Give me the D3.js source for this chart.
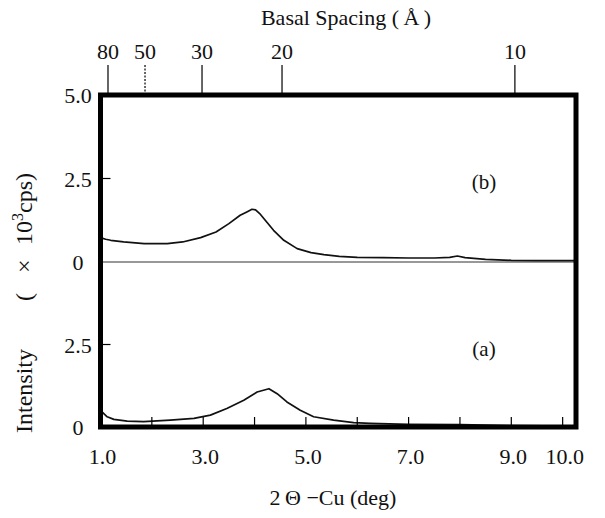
<!DOCTYPE html>
<head>
    <style>
        body { margin: 0; background: #fff; }
        svg { background-color: #fff; font-family: 'Liberation Serif', 'DejaVu Serif', serif; }
        path.line { fill: none; stroke: #111; stroke-width: 1.7px; stroke-linejoin: round; }
        line.tick { stroke: #000; stroke-width: 1.2px; }
        text { fill: #111; }
    </style>
</head>
<body>
    <script src="https://d3js.org/d3.v7.min.js"></script>
    <script>
        // curve (b), upper panel
        var two_theta_b = [1.0, 1.1, 1.2, 1.45, 1.85, 2.3, 2.6, 2.95, 3.25, 3.5, 3.72, 3.85, 3.95, 4.02, 4.1, 4.18,
                           4.37, 4.57, 4.83, 5.1, 5.35, 5.65, 6.0, 6.5, 7.0, 7.5, 7.8, 7.95, 8.1, 8.5, 9.0, 9.5, 10.26];
        var intensity_b = [0.73, 0.68, 0.65, 0.60, 0.55, 0.55, 0.60, 0.73, 0.90, 1.15, 1.40, 1.50, 1.58, 1.56, 1.45, 1.30,
                           0.95, 0.65, 0.40, 0.28, 0.22, 0.17, 0.14, 0.13, 0.12, 0.12, 0.14, 0.18, 0.13, 0.08, 0.05, 0.04, 0.04];

        // curve (a), lower panel
        var two_theta_a = [1.0, 1.03, 1.13, 1.26, 1.52, 1.84, 2.36, 2.82, 3.14, 3.46, 3.79, 4.05, 4.28, 4.44, 4.63,
                           4.89, 5.15, 5.54, 5.93, 6.25, 7.0, 8.0, 9.0, 10.26];
        var intensity_a = [0.50, 0.46, 0.31, 0.23, 0.18, 0.16, 0.21, 0.26, 0.36, 0.56, 0.81, 1.06, 1.16, 1.01, 0.76,
                           0.51, 0.31, 0.21, 0.13, 0.11, 0.08, 0.07, 0.04, 0.03];

        var bottom_ticks = [2, 3, 4, 5, 6, 7, 8, 9, 10];
        var bottom_labels = ['1.0', '3.0', '5.0', '7.0', '9.0', '10.0'];
        var bottom_label_pos = [1, 3, 5, 7, 9, 10];

        var top_labels = ['80', '50', '30', '20', '10'];
        var top_pos = [1.146, 1.867, 2.977, 4.535, 9.07];

        var y_ticks = [2.5];
        var y_labels_b = ['5.0', '2.5', '0'];
        var y_labels_a = ['2.5', '0'];
        var y_label_vals_b = [5, 2.5, 0];
        var y_label_vals_a = [2.5, 0];

        var dim = {'w': 605, 'h': 518,
                   frame: {'left': 100.5, 'right': 576, 'top': 95, 'mid': 262, 'bottom': 427}};

        var svg = d3.select('body')
                    .append('svg')
                    .attr('width', dim.w)
                    .attr('height', dim.h);

        var x_scale = d3.scaleLinear()
                        .domain([1, 10.26])
                        .range([dim.frame.left, dim.frame.right]);
        var y_top = d3.scaleLinear()
                      .domain([0, 5])
                      .range([dim.frame.mid, dim.frame.top]);
        var y_bot = d3.scaleLinear()
                      .domain([0, 5])
                      .range([dim.frame.bottom, dim.frame.mid]);

        var line_b = d3.line()
                       .x((d, i) => x_scale(two_theta_b[i]))
                       .y(d => y_top(d));
        var line_a = d3.line()
                       .x((d, i) => x_scale(two_theta_a[i]))
                       .y(d => y_bot(d));

        // zero line of the upper panel
        svg.append('line')
           .attr('x1', dim.frame.left).attr('x2', dim.frame.right)
           .attr('y1', y_top(0)).attr('y2', y_top(0))
           .attr('stroke', '#333').attr('stroke-width', 1.2);

        svg.append('path').datum(intensity_b).attr('class', 'line').attr('d', line_b);
        svg.append('path').datum(intensity_a).attr('class', 'line').attr('d', line_a);

        // inward ticks
        svg.selectAll('line.btick')
           .data(bottom_ticks)
           .enter()
           .append('line')
           .attr('class', 'tick')
           .attr('x1', d => x_scale(d)).attr('x2', d => x_scale(d))
           .attr('y1', dim.frame.bottom).attr('y2', dim.frame.bottom - 10);

        svg.selectAll('line.ltick_b')
           .data(y_ticks)
           .enter()
           .append('line')
           .attr('class', 'tick')
           .attr('x1', dim.frame.left).attr('x2', dim.frame.left + 10)
           .attr('y1', d => y_top(d)).attr('y2', d => y_top(d));
        svg.selectAll('line.ltick_a')
           .data(y_ticks)
           .enter()
           .append('line')
           .attr('class', 'tick')
           .attr('x1', dim.frame.left).attr('x2', dim.frame.left + 10)
           .attr('y1', d => y_bot(d)).attr('y2', d => y_bot(d));

        // top axis (basal spacing)
        svg.selectAll('line.ttick')
           .data(top_pos)
           .enter()
           .append('line')
           .attr('class', 'tick')
           .attr('x1', d => x_scale(d)).attr('x2', d => x_scale(d))
           .attr('y1', dim.frame.top).attr('y2', 65)
           .attr('stroke-dasharray', (d, i) => i == 1 ? '2,1.5' : null)
           .attr('stroke', (d, i) => i == 1 ? '#555' : '#000');

        svg.selectAll('text.tlab')
           .data(top_labels)
           .enter()
           .append('text')
           .attr('x', (d, i) => x_scale(top_pos[i]))
           .attr('y', 59)
           .attr('text-anchor', 'middle')
           .attr('font-size', 22)
           .text(d => d);

        // frame
        svg.append('rect')
           .attr('x', dim.frame.left).attr('y', dim.frame.top)
           .attr('width', dim.frame.right - dim.frame.left)
           .attr('height', dim.frame.bottom - dim.frame.top)
           .attr('fill', 'none').attr('stroke', '#000').attr('stroke-width', 5);

        // tick labels
        svg.selectAll('text.blab')
           .data(bottom_labels)
           .enter()
           .append('text')
           .attr('x', (d, i) => x_scale(bottom_label_pos[i]) + 2)
           .attr('y', 464)
           .attr('text-anchor', 'middle')
           .attr('font-size', 22)
           .text(d => d);

        svg.selectAll('text.ylab_b')
           .data(y_labels_b)
           .enter()
           .append('text')
           .attr('x', 78)
           .attr('y', (d, i) => y_top(y_label_vals_b[i]) + 8)
           .attr('text-anchor', 'middle')
           .attr('font-size', 22)
           .text(d => d);
        svg.selectAll('text.ylab_a')
           .data(y_labels_a)
           .enter()
           .append('text')
           .attr('x', 78)
           .attr('y', (d, i) => y_bot(y_label_vals_a[i]) + 8)
           .attr('text-anchor', 'middle')
           .attr('font-size', 22)
           .text(d => d);

        // titles
        svg.append('text')
           .attr('x', 346).attr('y', 25)
           .attr('text-anchor', 'middle')
           .attr('font-size', 22)
           .text('Basal Spacing (\u2009\u00C5\u2009)');

        svg.append('text')
           .attr('x', 333).attr('y', 505)
           .attr('text-anchor', 'middle')
           .attr('font-size', 22)
           .text('2\u2009\u0398 \u2212Cu (deg)');

        // y title, pieces placed along the rotated baseline
        var ylab = svg.append('text')
                      .attr('transform', 'translate(32,433) rotate(-90)')
                      .attr('font-size', 24);
        ylab.append('tspan').attr('x', 0).text('Intensity');
        ylab.append('tspan').attr('x', 132).text('(');
        ylab.append('tspan').attr('x', 160).text('\u00D7');
        ylab.append('tspan').attr('x', 188).text('10');
        ylab.append('tspan').attr('dy', -9).attr('font-size', 16).text('3');
        ylab.append('tspan').attr('dy', 9).text('cps)');

        svg.append('text').attr('x', 484).attr('y', 189)
           .attr('text-anchor', 'middle').attr('font-size', 21).text('(b)');
        svg.append('text').attr('x', 484).attr('y', 356)
           .attr('text-anchor', 'middle').attr('font-size', 21).text('(a)');
    </script>
</body>
